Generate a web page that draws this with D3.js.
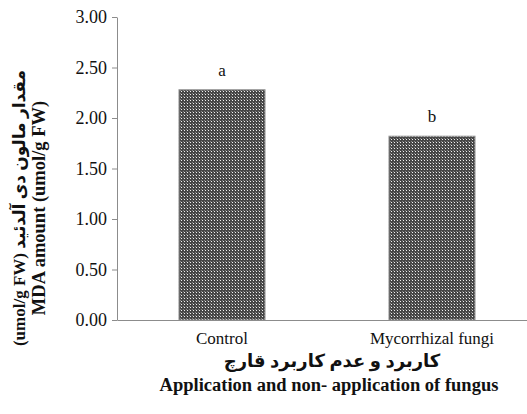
<!DOCTYPE html>
<html>
<head>
<meta charset="utf-8">
<script src="https://cdn.jsdelivr.net/npm/d3@7/dist/d3.min.js"></script>
<style>
  html, body { margin: 0; padding: 0; background: #fff; }
  svg { display: block; }
</style>
</head>
<body>
<svg id="chart" width="527" height="414"></svg>
<script>
// MDA content with and without mycorrhizal fungus
const categories = ["Control", "Mycorrhizal fungi"];
const mdaValues = [2.28, 1.82];
const groupLetters = ["a", "b"];
const yTickValues = [0, 0.5, 1, 1.5, 2, 2.5, 3];

const svg = d3.select("#chart");
const serif = "'Liberation Serif', 'Times New Roman', serif";
const persianFont = "'Liberation Serif', 'DejaVu Sans', serif";
const axisColor = "#8c8c8c";

svg.append("rect").attr("width", 527).attr("height", 414).attr("fill", "#fff");

// dotted fill for the bars
const defs = svg.append("defs");
const pat = defs.append("pattern")
  .attr("id", "dots")
  .attr("patternUnits", "userSpaceOnUse")
  .attr("width", 3).attr("height", 3);
pat.append("rect").attr("width", 3).attr("height", 3).attr("fill", "#464646");
pat.append("rect").attr("x", 1).attr("y", 1).attr("width", 1).attr("height", 1).attr("fill", "#f0f0f0");
pat.append("rect").attr("x", 0).attr("y", 0).attr("width", 1).attr("height", 1).attr("fill", "#858585");

const x = d3.scaleBand()
  .domain(categories)
  .range([117, 537])
  .paddingInner(0.59)
  .paddingOuter(0.295);

const y = d3.scaleLinear().domain([0, 3]).range([320, 17]);

// y axis
const yAxis = svg.append("g")
  .attr("transform", "translate(117,0)")
  .call(d3.axisLeft(y)
    .tickValues(yTickValues)
    .tickFormat(d3.format(".2f"))
    .tickSize(5)
    .tickSizeOuter(0)
    .tickPadding(5));
yAxis.selectAll("path, line").attr("stroke", axisColor);
yAxis.selectAll("text")
  .attr("font-family", serif)
  .attr("font-size", 18)
  .attr("fill", "#111");

// bars
svg.append("g").selectAll("rect")
  .data(categories)
  .join("rect")
  .attr("x", d => x(d))
  .attr("y", (d, i) => y(mdaValues[i]))
  .attr("width", x.bandwidth())
  .attr("height", (d, i) => y(0) - y(mdaValues[i]))
  .attr("fill", "url(#dots)")
  .attr("stroke", "#9a9a9a")
  .attr("stroke-width", 1);

// significance letters
svg.append("g").selectAll("text")
  .data(categories)
  .join("text")
  .attr("x", d => x(d) + x.bandwidth() / 2)
  .attr("y", (d, i) => y(mdaValues[i]) - 14)
  .attr("text-anchor", "middle")
  .attr("font-family", serif)
  .attr("font-size", 17)
  .attr("fill", "#111")
  .text((d, i) => groupLetters[i]);

// x axis
const xAxis = svg.append("g")
  .attr("transform", "translate(0,320)")
  .call(d3.axisBottom(x).tickSize(0).tickSizeOuter(0).tickPadding(12));
xAxis.select("path").attr("stroke", axisColor);
xAxis.selectAll("text")
  .attr("font-family", serif)
  .attr("font-size", 17)
  .attr("fill", "#111");

// x axis titles
svg.append("text")
  .attr("x", 332).attr("y", 367)
  .attr("text-anchor", "middle")
  .attr("direction", "rtl")
  .attr("font-family", persianFont)
  .attr("font-size", 18)
  .attr("font-weight", "bold")
  .attr("fill", "#111")
  .text("کاربرد و عدم کاربرد قارچ");

svg.append("text")
  .attr("x", 329).attr("y", 391)
  .attr("text-anchor", "middle")
  .attr("font-family", serif)
  .attr("font-size", 18.5)
  .attr("font-weight", "bold")
  .attr("fill", "#111")
  .text("Application and non- application of fungus");

// y axis titles
svg.append("text")
  .attr("transform", "translate(25,208) rotate(-90)")
  .attr("text-anchor", "middle")
  .attr("direction", "rtl")
  .attr("font-family", persianFont)
  .attr("font-size", 17)
  .attr("font-weight", "bold")
  .attr("fill", "#111")
  .text("مقدار مالون دی آلدئید (umol/g FW)");

svg.append("text")
  .attr("transform", "translate(45,208) rotate(-90)")
  .attr("text-anchor", "middle")
  .attr("font-family", serif)
  .attr("font-size", 18.5)
  .attr("font-weight", "bold")
  .attr("fill", "#111")
  .text("MDA amount (umol/g FW)");
</script>
</body>
</html>
